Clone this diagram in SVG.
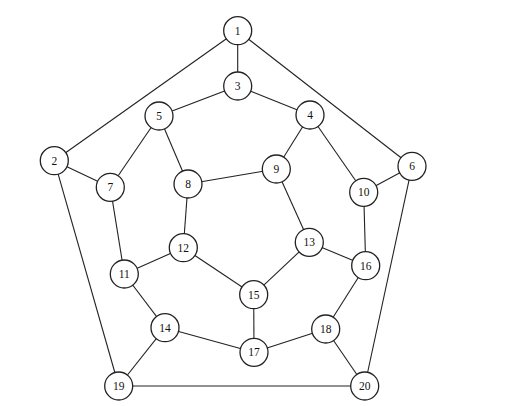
<svg xmlns="http://www.w3.org/2000/svg" width="505" height="406" viewBox="0 0 505 406">
<style>
.e line{stroke:#222;stroke-width:1.1}
.n circle{fill:#fff;stroke:#222;stroke-width:1.3}
.n text{font-family:"Liberation Serif",serif;font-size:11.5px;fill:#111;text-anchor:middle;dominant-baseline:central}
</style>
<rect width="505" height="406" fill="#fff"/>
<g id="connectors" class="e">
<line x1="237.7" y1="30.7" x2="237.7" y2="86"/>
<line x1="237.7" y1="30.7" x2="54.3" y2="160.7"/>
<line x1="237.7" y1="30.7" x2="412" y2="166.3"/>
<line x1="237.7" y1="86" x2="159" y2="116"/>
<line x1="237.7" y1="86" x2="310" y2="115"/>
<line x1="159" y1="116" x2="110.3" y2="187.3"/>
<line x1="159" y1="116" x2="188" y2="184"/>
<line x1="310" y1="115" x2="276.3" y2="169"/>
<line x1="310" y1="115" x2="363.7" y2="192.3"/>
<line x1="54.3" y1="160.7" x2="110.3" y2="187.3"/>
<line x1="54.3" y1="160.7" x2="118.7" y2="386"/>
<line x1="412" y1="166.3" x2="363.7" y2="192.3"/>
<line x1="412" y1="166.3" x2="364.7" y2="386"/>
<line x1="188" y1="184" x2="276.3" y2="169"/>
<line x1="188" y1="184" x2="183.3" y2="247.7"/>
<line x1="276.3" y1="169" x2="309.3" y2="242.3"/>
<line x1="110.3" y1="187.3" x2="124.3" y2="274"/>
<line x1="363.7" y1="192.3" x2="365.7" y2="265.7"/>
<line x1="183.3" y1="247.7" x2="124.3" y2="274"/>
<line x1="183.3" y1="247.7" x2="253.7" y2="294.7"/>
<line x1="309.3" y1="242.3" x2="253.7" y2="294.7"/>
<line x1="309.3" y1="242.3" x2="365.7" y2="265.7"/>
<line x1="124.3" y1="274" x2="165" y2="327.7"/>
<line x1="365.7" y1="265.7" x2="325.7" y2="329"/>
<line x1="253.7" y1="294.7" x2="254" y2="352.3"/>
<line x1="165" y1="327.7" x2="254" y2="352.3"/>
<line x1="165" y1="327.7" x2="118.7" y2="386"/>
<line x1="325.7" y1="329" x2="254" y2="352.3"/>
<line x1="325.7" y1="329" x2="364.7" y2="386"/>
<line x1="118.7" y1="386" x2="364.7" y2="386"/>
</g>
<g id="n1" class="n"><circle cx="237.7" cy="30.7" r="14"/><text x="237.7" y="30.7">1</text></g>
<g id="n2" class="n"><circle cx="54.3" cy="160.7" r="14"/><text x="54.3" y="160.7">2</text></g>
<g id="n3" class="n"><circle cx="237.7" cy="86" r="14"/><text x="237.7" y="86">3</text></g>
<g id="n4" class="n"><circle cx="310" cy="115" r="14"/><text x="310" y="115">4</text></g>
<g id="n5" class="n"><circle cx="159" cy="116" r="14"/><text x="159" y="116">5</text></g>
<g id="n6" class="n"><circle cx="412" cy="166.3" r="14"/><text x="412" y="166.3">6</text></g>
<g id="n7" class="n"><circle cx="110.3" cy="187.3" r="14"/><text x="110.3" y="187.3">7</text></g>
<g id="n8" class="n"><circle cx="188" cy="184" r="14"/><text x="188" y="184">8</text></g>
<g id="n9" class="n"><circle cx="276.3" cy="169" r="14"/><text x="276.3" y="169">9</text></g>
<g id="n10" class="n"><circle cx="363.7" cy="192.3" r="14"/><text x="363.7" y="192.3">10</text></g>
<g id="n11" class="n"><circle cx="124.3" cy="274" r="14"/><text x="124.3" y="274">11</text></g>
<g id="n12" class="n"><circle cx="183.3" cy="247.7" r="14"/><text x="183.3" y="247.7">12</text></g>
<g id="n13" class="n"><circle cx="309.3" cy="242.3" r="14"/><text x="309.3" y="242.3">13</text></g>
<g id="n14" class="n"><circle cx="165" cy="327.7" r="14"/><text x="165" y="327.7">14</text></g>
<g id="n15" class="n"><circle cx="253.7" cy="294.7" r="14"/><text x="253.7" y="294.7">15</text></g>
<g id="n16" class="n"><circle cx="365.7" cy="265.7" r="14"/><text x="365.7" y="265.7">16</text></g>
<g id="n17" class="n"><circle cx="254" cy="352.3" r="14"/><text x="254" y="352.3">17</text></g>
<g id="n18" class="n"><circle cx="325.7" cy="329" r="14"/><text x="325.7" y="329">18</text></g>
<g id="n19" class="n"><circle cx="118.7" cy="386" r="14"/><text x="118.7" y="386">19</text></g>
<g id="n20" class="n"><circle cx="364.7" cy="386" r="14"/><text x="364.7" y="386">20</text></g>
</svg>
